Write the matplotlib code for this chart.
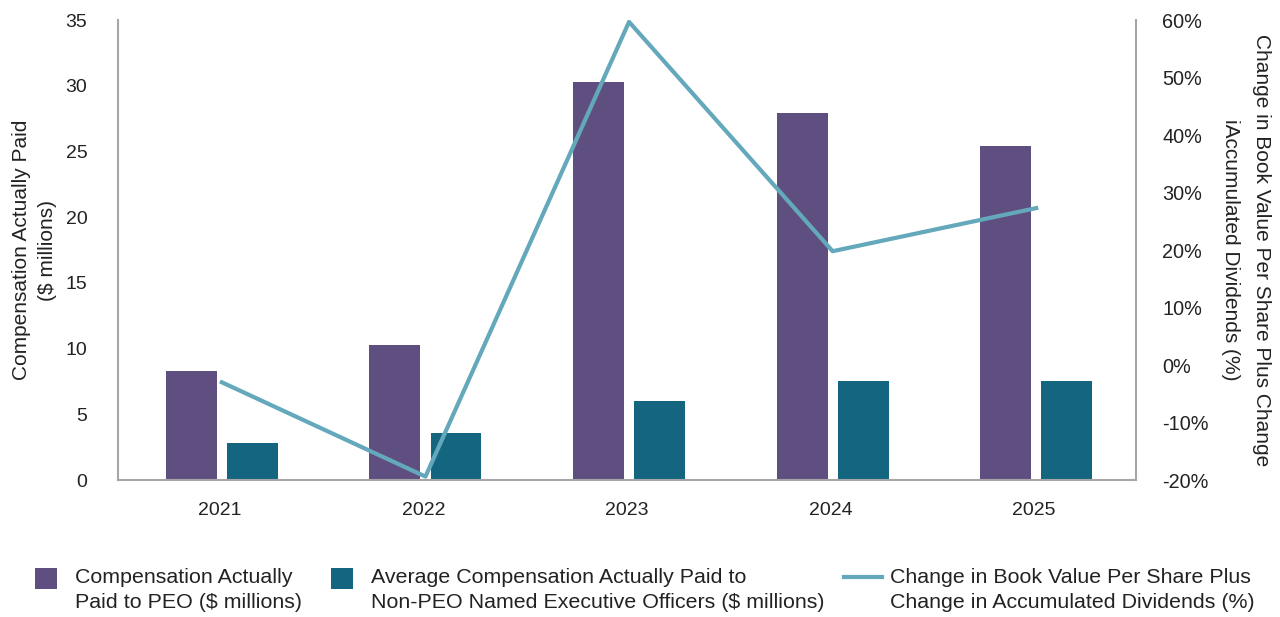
import matplotlib.pyplot as plt
import numpy as np

plt.rcParams['font.family'] = ['Liberation Sans', 'DejaVu Sans']

years = ['2021', '2022', '2023', '2024', '2025']
peo_cap = [8.3, 10.3, 30.3, 27.9, 25.4]          # $ millions
neo_cap = [2.8, 3.6, 6.0, 7.5, 7.5]              # $ millions
bvps_change = [-3.0, -19.4, 59.7, 19.8, 27.3]    # %

purple = '#5F4F80'
teal = '#146680'
lineblue = '#63A8BB'
spinegray = '#A6A6A6'
txt = '#222222'

fig = plt.figure(figsize=(12.8, 6.17), dpi=100)
ax = fig.add_axes([0.0922, 0.222, 0.7953, 0.7454])
ax2 = ax.twinx()

x = np.arange(len(years))
b1 = ax.bar(x - 0.14, peo_cap, width=0.25, color=purple)
b2 = ax.bar(x + 0.16, neo_cap, width=0.25, color=teal)
ln, = ax2.plot(x + 0.01, bvps_change, color=lineblue, lw=3)

ax.set_xlim(-0.5, len(years) - 0.5)
ax.set_ylim(0, 35)
ax.set_yticks(range(0, 36, 5))
ax.set_xticks(x)
ax.set_xticklabels(years)
ax2.set_ylim(-20, 60)
ax2.set_yticks(range(-20, 61, 10))
ax2.set_yticklabels([f'{v}%' for v in range(-20, 61, 10)])

for a in (ax, ax2):
    for s in a.spines.values():
        s.set_color(spinegray)
        s.set_linewidth(1.5)
    a.spines['top'].set_visible(False)
ax.spines['right'].set_visible(False)
ax2.spines['left'].set_visible(False)
ax2.spines['bottom'].set_visible(False)

ax.tick_params(axis='y', length=0, pad=22, labelsize=14, labelcolor=txt)
ax.tick_params(axis='x', length=0, pad=16, labelsize=14, labelcolor=txt)
ax2.tick_params(axis='y', length=0, pad=19, labelsize=14.3, labelcolor=txt)

ax.set_ylabel('Compensation Actually Paid\n($ millions)', fontsize=15, color=txt,
              labelpad=6, linespacing=1.5)
ax2.set_ylabel('Change in Book Value Per Share Plus Change\niAccumulated Dividends (%)',
               fontsize=15, color=txt, rotation=-90, va='bottom', labelpad=9,
               linespacing=1.75)

# legend entries placed individually, handle lined up with the first text line
entries = [
    (b1, 'Compensation Actually\nPaid to PEO ($ millions)', 0.0273, 1.03, 0.84),
    (b2, 'Average Compensation Actually Paid to\nNon-PEO Named Executive Officers ($ millions)', 0.2586, 1.03, 0.84),
    (ln, 'Change in Book Value Per Share Plus\nChange in Accumulated Dividends (%)', 0.659, 1.82, 0.37),
]
for h, lab, xpos, hl, tp in entries:
    leg = fig.legend([h], [lab], loc='upper left', bbox_to_anchor=(xpos, 0.08),
                     bbox_transform=fig.transFigure, frameon=False, fontsize=15.4,
                     handlelength=hl, handleheight=1.15, handletextpad=tp,
                     borderpad=0, borderaxespad=0, labelcolor=txt)
    for t in leg.get_texts():
        t.set_linespacing(1.4)
    for col in leg._legend_handle_box.get_children():
        for item in col.get_children():
            item.align = 'top'

fig.savefig('out.png', dpi=100)
